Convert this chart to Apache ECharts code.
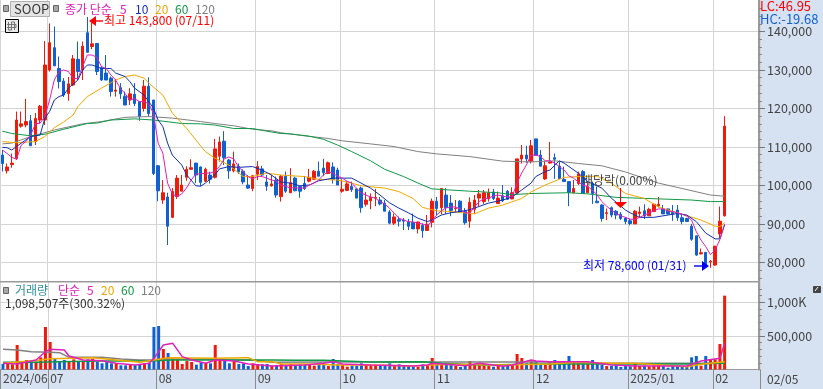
<!DOCTYPE html>
<html>
<head>
<meta charset="utf-8">
<style>
  html, body { margin: 0; padding: 0; background: #fff; }
  #chart { width: 823px; height: 389px; }
</style>
<script src="https://cdn.jsdelivr.net/npm/echarts@6/dist/echarts.min.js"></script>
</head>
<body>
<div id="chart"></div>
<script>
// 일봉 시세 (06/19 ~ 02/05)
const opens = [
  107900,103800,105400,107000,115400,115700,116800,111400,117000,117000,
  130000,135800,130400,127100,123900,126100,132800,130000,139700,136100,
  136900,130600,129200,127900,124500,125400,123200,122200,123700,121800,
  120000,125800,122200,105100,96200,97000,91700,97100,98500,102100,
  104200,105800,104800,101100,102700,102100,107600,111500,106600,103800,
  105000,103700,100100,99200,102900,104300,100900,99900,101400,97100,
  102400,98100,101900,99700,100500,101100,101600,103700,104500,103100,
  104800,104000,98500,98700,99700,99100,99300,95100,96000,96700,
  96200,95400,93100,90200,91100,91000,90500,90400,88700,89600,
  88300,90400,95900,94200,97500,95400,93900,95900,93300,90700,
  93800,96700,95800,96500,98300,95300,97300,98500,96500,98000,
  106900,107900,106300,112100,107900,101700,105800,107200,105000,101600,
  101000,98100,100500,103600,98100,100500,95900,94900,92700,94200,
  93300,92500,91500,90800,90000,92700,93400,92100,93200,94700,
  93900,93900,93000,93600,91600,91400,89400,86900,82200,82600,
  80100,79300,87400,92100
]
const closes = [
  105700,104800,105800,117000,116000,116600,110300,117400,120600,131300,
  137100,131100,127000,123500,126400,132900,129600,136200,134600,136800,
  129600,127400,127400,124400,124800,123800,120900,123800,121300,117900,
  125800,118700,103100,98600,98100,89400,98400,101900,100100,104200,
  104600,102700,100800,104200,101600,109500,111300,107200,103800,105600,
  103500,100900,99300,102500,104900,102700,99800,100400,97500,102400,
  98500,100700,98600,98500,99200,102100,103700,102400,103300,105900,
  101600,100100,99000,100400,98900,96700,94200,96200,96900,96900,
  95200,93300,90200,91800,90700,90700,89400,88700,90500,88200,
  89900,95900,94000,99200,94200,93500,94000,93000,90300,95600,
  96200,97800,98100,98100,96600,96700,96000,96400,98100,106900,
  107900,106900,110300,107800,105000,105100,106100,106800,101800,101000,
  98200,99200,103000,97900,99700,97900,95500,91400,92900,92300,
  92300,91400,90600,90100,93300,93100,92100,93800,95100,95100,
  92600,92600,92600,91600,90600,90600,86000,81900,82500,79300,
  80300,84200,90700,115400
]
const lows = [
  103600,103100,104600,106600,115000,115100,110300,110500,116000,115700,
  129600,131000,125200,123000,122000,125800,127400,127400,134600,135400,
  128700,127200,127400,123100,123100,122500,120900,120900,120600,116800,
  119200,117900,102700,95900,95200,84500,91500,96500,98500,101200,
  104200,100600,99800,100900,100500,101800,106200,105300,101700,103400,
  103000,100300,99100,98500,101400,102300,98600,99700,96800,95800,
  98100,98000,98500,96800,98800,100800,101500,102400,102400,103000,
  100500,100100,98100,98500,98300,96700,92900,94500,93800,94600,
  94800,93300,89900,89700,89300,88400,88400,88700,87500,86400,
  88200,89100,92300,92500,92600,92000,93000,93000,89800,89000,
  92700,94600,95200,95800,96200,95200,95700,96200,96400,98000,
  105700,105900,105700,107800,105000,101400,105700,101700,101800,101000,
  94600,98000,100100,97900,98000,95200,95500,90600,91000,91700,
  91200,91000,89900,89600,90000,91600,91300,92100,93100,94300,
  92600,92400,90800,90800,89900,90600,85600,81700,82100,78900,
  78600,79100,86200,91900
]
const highs = [
  109200,105700,108300,119200,119200,122500,118300,118800,120900,137500,
  142100,141300,133500,127900,128200,133900,137400,137400,143800,142300,
  137000,131000,133900,128300,127700,126600,124400,125300,126600,121800,
  127400,128100,122200,105300,101400,98100,99300,102700,102700,105000,
  106800,105900,104900,104600,103600,112100,112700,114100,106900,108800,
  105700,104200,102700,102700,106300,105100,102700,102700,102300,102700,
  103600,104500,102300,99800,102400,104300,104000,106200,106900,106200,
  106000,104600,101600,101100,101000,99300,99700,98300,97900,99100,
  97000,96200,93600,92700,91900,91500,91300,92700,90600,90100,
  92300,96600,97000,99200,99300,97500,96200,96200,94100,96900,
  97500,98800,98800,99200,99100,98400,100100,98800,99500,106900,
  110500,110300,111800,112100,109200,106200,111300,108300,106100,104900,
  101000,101400,103600,104000,101000,101000,99700,95200,94000,94500,
  93600,93100,91700,91400,93600,94500,95100,94200,95300,97000,
  94900,94000,94900,94900,92700,91600,90000,86900,83600,82600,
  80600,84300,94500,118000
]
const volumes = [
  82000,82000,77000,365000,102000,141000,107000,117000,181000,632000,
  409000,156000,117000,141000,117000,151000,117000,117000,151000,161000,
  117000,92000,117000,92000,92000,62000,62000,82000,67000,82000,
  92000,102000,632000,647000,305000,246000,166000,161000,82000,126000,
  112000,72000,102000,102000,92000,365000,141000,141000,92000,126000,
  82000,92000,52000,92000,82000,77000,82000,57000,67000,82000,
  52000,82000,67000,77000,77000,77000,57000,97000,67000,52000,
  156000,82000,67000,42000,57000,52000,92000,67000,67000,57000,
  57000,57000,92000,57000,77000,57000,57000,42000,42000,77000,
  62000,171000,92000,82000,67000,67000,57000,37000,57000,126000,
  67000,97000,67000,52000,42000,57000,82000,67000,77000,231000,
  171000,92000,122000,126000,82000,67000,126000,141000,82000,82000,
  201000,117000,107000,92000,82000,141000,82000,67000,52000,52000,
  67000,37000,52000,47000,82000,52000,57000,47000,57000,62000,
  52000,27000,52000,47000,47000,37000,181000,201000,57000,201000,
  151000,151000,379000,1098507
]

// 종가 단순 이평 5일은 전 구간, 나머지는 그림에서 읽은 지점만 [봉번호, 값]
const priceMa5 = [
  109200,108300,107300,106800,110500,111400,113100,116000,116200,117900,
  122200,127400,129600,130000,129600,127800,127800,130900,133900,133900,
  133300,130900,130400,128700,127400,125200,123900,122200,122600,121800,
  121800,121300,118700,111000,108400,100600,97800,97100,97800,99300,
  101400,103000,103000,103200,103200,103600,104900,106900,107400,106900,
  104900,103600,102300,101700,102300,102300,101900,101400,101100,100100,
  99800,99300,99400,99300,99300,100100,100600,101400,102700,103600,
  103200,102400,101900,101100,100600,99300,98000,97500,97000,96700,
  95800,95200,94100,92800,91500,91000,90600,90500,90200,90000,
  89500,90600,92300,93400,94200,94400,94400,93900,92900,92800,
  94400,95800,96500,96700,97200,97500,97200,97000,97000,100600,
  103200,105300,107900,107900,107500,106400,106400,105800,104900,104000,
  102500,101900,100900,100100,99700,98800,97500,95800,94600,93600,
  92700,92100,91700,91200,91200,91700,92300,92800,93400,93900,
  93900,93300,93200,92900,92500,92000,91000,88000,85800,84100,
  82000,83200,85900,90000
]
const priceMa10 = [
  [0,109900],[1,109800],[2,109200],[4,111000],[6,112700],[8,113100],[9,117500],[10,119200],
  [11,122200],[12,123100],[13,123500],[14,125300],[16,127400],[17,130000],[18,131300],[19,131300],
  [21,130400],[23,130400],[24,129200],[26,128300],[27,127000],[28,125300],[30,123500],[31,121800],
  [32,120100],[33,117000],[34,115300],[35,111000],[36,107900],[38,105300],[39,102800],[41,99900],
  [42,99800],[43,100600],[45,102700],[46,104300],[48,104900],[50,104700],[53,104900],[55,104000],
  [57,102700],[59,100900],[61,100600],[63,99900],[65,100100],[67,101200],[70,101900],[74,101900],
  [76,100600],[78,99300],[80,97500],[82,95500],[84,94100],[86,92900],[88,91500],[90,90600],
  [91,91000],[93,92300],[95,92900],[98,93400],[100,94100],[103,95400],[106,96200],[108,97000],
  [110,98800],[112,100600],[113,102300],[115,103600],[116,104000],[118,106400],[119,105800],[122,103200],
  [124,101000],[127,99300],[129,96700],[132,93600],[133,92900],[135,91700],[138,91700],[141,92300],
  [143,92700],[145,92300],[147,90600],[149,87600],[151,86100],[152,86100],[153,89700]
]
const priceMa20 = [
  [0,111400],[3,111100],[7,111400],[9,112700],[11,115000],[13,116500],[15,118300],[16,120500],
  [18,123100],[21,125300],[24,127400],[26,128300],[28,128700],[30,127900],[31,126600],[34,123500],
  [36,118800],[38,116200],[39,114900],[41,111800],[43,108800],[45,107100],[48,105300],[51,102300],
  [53,102300],[56,103200],[59,102700],[64,102300],[67,101600],[71,101400],[74,100600],[76,99900],
  [81,99300],[84,98400],[87,96600],[89,94300],[92,93400],[95,93200],[100,92600],[103,94100],
  [106,94900],[110,96600],[112,98300],[115,100100],[119,102100],[122,102300],[126,102400],[129,100600],
  [132,97900],[136,96600],[139,94400],[144,92500],[148,91000],[151,89400],[152,89300],[153,90300]
]
const priceMa60 = [
  [0,114100],[2,113500],[6,112900],[9,113300],[13,114600],[18,116100],[20,116200],[23,117000],
  [28,117300],[32,117000],[38,116100],[42,116000],[45,115700],[49,114800],[53,114800],[56,114100],
  [59,113500],[61,113400],[65,112800],[68,112000],[71,110500],[74,108800],[78,106400],[81,104200],
  [85,102300],[89,100100],[91,99100],[95,98800],[99,98500],[105,98100],[108,97600],[112,97900],
  [116,98000],[120,98100],[124,97800],[130,96900],[139,96500],[146,96200],[150,95800],[153,95800]
]
const priceMa120 = [
  [0,110800],[2,111000],[6,112700],[11,114400],[17,116000],[21,116600],[26,117700],[31,117900],
  [36,117500],[42,116600],[45,116100],[49,115500],[53,114600],[57,114200],[59,113700],[64,112900],
  [69,112200],[72,111600],[78,110800],[83,110100],[88,108800],[92,108200],[99,107500],[106,106300],
  [112,106100],[117,106400],[122,105700],[127,105100],[132,103500],[139,100600],[144,99200],[150,97500],
  [153,97200]
]

// 거래량 이평
const volMa5 = [
  [0,92000],[3,82000],[7,141000],[9,265000],[10,300000],[13,290000],[14,201000],[17,141000],
  [21,131000],[24,92000],[28,67000],[31,92000],[32,166000],[34,365000],[36,389000],[38,191000],
  [40,141000],[43,92000],[45,141000],[49,126000],[52,82000],[57,52000],[64,67000],[68,92000],
  [70,117000],[72,82000],[78,67000],[87,52000],[90,67000],[91,92000],[98,57000],[101,92000],
  [106,47000],[108,67000],[112,141000],[113,126000],[116,117000],[119,117000],[124,117000],[129,67000],
  [134,52000],[145,52000],[148,126000],[152,166000],[153,389000]
]
const volMa20 = [
  [0,92000],[8,141000],[10,161000],[19,176000],[24,141000],[29,107000],[32,141000],[35,176000],
  [45,166000],[52,176000],[54,117000],[57,117000],[59,82000],[64,82000],[71,67000],[78,67000],
  [87,52000],[91,67000],[95,77000],[106,67000],[116,82000],[122,107000],[129,92000],[134,92000],
  [145,42000],[148,77000],[153,117000]
]
const volMa60 = [
  [0,107000],[7,107000],[20,126000],[31,126000],[36,141000],[45,141000],[53,141000],[57,141000],
  [62,136000],[68,136000],[78,112000],[89,117000],[93,92000],[101,67000],[115,82000],[134,82000],
  [145,82000],[153,92000]
]
const volMa120 = [
  [0,300000],[3,290000],[6,265000],[10,255000],[12,250000],[14,181000],[21,181000],[25,156000],
  [29,141000],[32,141000],[36,151000],[45,151000],[48,141000],[53,141000],[57,107000],[70,112000],
  [116,112000],[126,92000],[153,92000]
]

const monthLabels = {
  0: '2024/06', 10: '07', 33: '08', 54: '09', 72: '10',
  92: '11', 113: '12', 133: '2025/01', 151: '02'
}
const priceTicks = [80000, 90000, 100000, 110000, 120000, 130000, 140000]
const priceMinorTicks = [
  76000, 78000, 82000, 84000, 86000, 88000, 92000, 94000, 96000, 98000,
  102000, 104000, 106000, 108000, 112000, 114000, 116000, 118000,
  122000, 124000, 126000, 128000, 132000, 134000, 136000, 138000, 142000, 144000, 146000
]
const volTicks = [500000, 1000000]
const volMinorTicks = [
  100000, 200000, 300000, 400000, 600000, 700000, 800000, 900000, 1100000, 1200000
]

// 빈 봉 7개 포함 (02/05 오른쪽 여백)
const categories = Array.from({ length: 161 }, (_, i) => i)
const candles = opens.map((o, i) => [o, closes[i], lows[i], highs[i]])

const RED = '#ee1a0a'
const BLUE = '#1060d0'
const C_MA5 = '#e020b8'
const C_MA10 = '#1030b0'
const C_MA20 = '#f0a800'
const C_MA60 = '#109848'
const C_MA120 = '#808080'
const GRID = '#d4d4d4'
const AXIS = '#9a9a9a'
const PANEL = '#d6e2f1'
const FONT = '"Noto Sans CJK KR", "Liberation Sans", sans-serif'

const isMonth = index => monthLabels[index] !== undefined

function maLine(name, data, color, xIdx, yIdx, width) {
  return {
    name, type: 'line', data, xAxisIndex: xIdx, yAxisIndex: yIdx,
    showSymbol: false, silent: true, animation: false,
    lineStyle: { color, width: width || 1 }, z: 4
  }
}

function label(x, y, text, color, size) {
  return {
    type: 'text', x, y, silent: true, z: 20,
    style: { text, fill: color, font: `${size || 12}px ${FONT}`, verticalAlign: 'middle' }
  }
}

function box(x, y, w, h, fill, stroke) {
  return {
    type: 'rect', silent: true, z: 19,
    shape: { x: x + 0.5, y: y + 0.5, width: w, height: h },
    style: { fill, stroke: stroke || null, lineWidth: 1 }
  }
}

const graphics = [
  // 오른쪽 / 아래 패널
  { type: 'rect', silent: true, z: -10, shape: { x: 758, y: 0, width: 65, height: 389 }, style: { fill: PANEL } },
  { type: 'rect', silent: true, z: -10, shape: { x: 0, y: 370, width: 823, height: 19 }, style: { fill: PANEL } },
  { type: 'rect', silent: true, z: 3, shape: { x: 0, y: 281, width: 758, height: 1.4 }, style: { fill: AXIS } },
  // 상단 범례
  box(3, 5, 5, 6, '#a8a8a8', '#666'),
  box(10, 1, 39, 15, '#e4e4e4', '#b0b0b0'),
  label(14, 9, 'SOOP', '#333', 13),
  box(53, 5, 5, 6, '#a8a8a8', '#666'),
  label(65, 9, '종가 단순', C_MA5),
  label(120, 9, '5', C_MA5),
  label(135, 9, '10', C_MA10),
  label(155, 9, '20', C_MA20),
  label(175, 9, '60', C_MA60),
  label(195, 9, '120', C_MA120),
  // 격자 아이콘
  box(5, 19, 13, 13, '#e8e8e8', '#000'),
  { type: 'polyline', silent: true, z: 20, shape: { points: [[8.5, 22], [8.5, 30], [11.5, 30], [11.5, 22], [14.5, 22], [14.5, 30]] }, style: { stroke: '#777', fill: null } },
  { type: 'polyline', silent: true, z: 20, shape: { points: [[7, 24.5], [16, 24.5], [16, 27.5], [7, 27.5]] }, style: { stroke: '#777', fill: null } },
  // 최고가
  { type: 'line', silent: true, z: 20, shape: { x1: 93, y1: 21, x2: 103, y2: 21 }, style: { stroke: '#f00', lineWidth: 1.4 } },
  { type: 'polygon', silent: true, z: 20, shape: { points: [[89, 21], [96, 16], [96, 26]] }, style: { fill: '#f00' } },
  label(104, 20.5, '최고 143,800 (07/11)', '#f00'),
  // 배당락
  label(582, 180, '배당락(0.00%)', '#444'),
  { type: 'line', silent: true, z: 20, shape: { x1: 620.5, y1: 188, x2: 620.5, y2: 203 }, style: { stroke: '#f00', lineWidth: 1 } },
  { type: 'polygon', silent: true, z: 20, shape: { points: [[614, 202], [627, 202], [620.5, 208]] }, style: { fill: '#f00' } },
  // 최저가
  label(583, 265, '최저 78,600 (01/31)', '#0000f0'),
  { type: 'line', silent: true, z: 20, shape: { x1: 694, y1: 266, x2: 704, y2: 266 }, style: { stroke: '#0000f0', lineWidth: 1.4 } },
  { type: 'polygon', silent: true, z: 20, shape: { points: [[709, 266], [702, 261], [702, 271]] }, style: { fill: '#0000f0' } },
  // 거래량 범례
  box(3, 287, 5, 6, '#a8a8a8', '#666'),
  label(15, 290, '거래량', '#2f8f9a'),
  label(58, 290, '단순', C_MA5),
  label(87, 290, '5', C_MA5),
  label(101, 290, '20', C_MA20),
  label(121, 290, '60', C_MA60),
  label(141, 290, '120', C_MA120),
  label(5, 303, '1,098,507주(300.32%)', '#333'),
  // 우측 상단
  label(760, 6, 'LC:46.95', '#f00', 13),
  label(760, 19, 'HC:-19.68', '#1060d0', 13),
  box(813, 286, 7, 6, '#444', '#444'),
  { type: 'polyline', silent: true, z: 20, shape: { points: [[815, 291], [818, 287]] }, style: { stroke: '#fff', fill: null } },
  // 02/05 눈금
  label(767, 379, '02/05', '#444', 12)
]

const chart = echarts.init(document.getElementById('chart'))
chart.setOption({
  animation: false,
  backgroundColor: '#fff',
  textStyle: { fontFamily: FONT },
  grid: [
    { left: 0, top: 0, width: 760, height: 281.6 },
    { left: 0, top: 282, width: 760, height: 87.5 }
  ],
  xAxis: [
    {
      type: 'category', gridIndex: 0, data: categories,
      axisLine: { show: false }, axisTick: { show: false }, axisLabel: { show: false },
      splitLine: { show: true, interval: isMonth, lineStyle: { color: GRID } }
    },
    {
      type: 'category', gridIndex: 1, data: categories,
      axisLine: { show: true, onZero: false, lineStyle: { color: AXIS, width: 1 } },
      axisTick: { show: true, length: 20, interval: isMonth, lineStyle: { color: '#8c8c8c' } },
      axisLabel: {
        show: true, interval: isMonth, margin: 3, align: 'left', showMinLabel: true,
        color: '#444', fontSize: 12, fontFamily: FONT,
        formatter: (v, i) => monthLabels[i] || ''
      },
      splitLine: { show: true, interval: isMonth, lineStyle: { color: GRID } }
    }
  ],
  yAxis: [
    {
      type: 'value', gridIndex: 0, position: 'right', offset: -1, min: 75000, max: 148200,
      axisLine: { show: true, onZero: false, lineStyle: { color: AXIS, width: 2 } },
      axisTick: { show: true, length: 6, customValues: priceTicks, lineStyle: { color: '#777' } },
      axisLabel: {
        show: true, customValues: priceTicks, margin: 8, color: '#444', fontSize: 12.5, fontFamily: FONT,
        formatter: v => v.toLocaleString('en-US')
      },
      splitLine: { show: true, lineStyle: { color: GRID } }
    },
    {
      type: 'value', gridIndex: 0, position: 'right', offset: -1, min: 75000, max: 148200,
      axisLine: { show: false },
      axisTick: { show: true, length: 3, customValues: priceMinorTicks, lineStyle: { color: '#888' } },
      axisLabel: { show: false }, splitLine: { show: false }
    },
    {
      type: 'value', gridIndex: 1, position: 'right', offset: -1, min: 0, max: 1302000,
      axisLine: { show: true, onZero: false, lineStyle: { color: AXIS, width: 2 } },
      axisTick: { show: true, length: 6, customValues: volTicks, lineStyle: { color: '#777' } },
      axisLabel: {
        show: true, customValues: volTicks, margin: 8, color: '#444', fontSize: 12.5, fontFamily: FONT,
        formatter: v => v === 1000000 ? '1,000K' : v.toLocaleString('en-US')
      },
      splitLine: { show: true, lineStyle: { color: GRID } }
    },
    {
      type: 'value', gridIndex: 1, position: 'right', offset: -1, min: 0, max: 1302000,
      axisLine: { show: false },
      axisTick: { show: true, length: 3, customValues: volMinorTicks, lineStyle: { color: '#888' } },
      axisLabel: { show: false }, splitLine: { show: false }
    }
  ],
  series: [
    {
      name: 'SOOP', type: 'candlestick', data: candles, xAxisIndex: 0, yAxisIndex: 0,
      barWidth: 3, z: 2,
      itemStyle: { color: RED, color0: BLUE, borderColor: RED, borderColor0: BLUE, borderWidth: 1 }
    },
    maLine('MA120', priceMa120, C_MA120, 0, 0),
    maLine('MA60', priceMa60, C_MA60, 0, 0),
    maLine('MA20', priceMa20, C_MA20, 0, 0),
    maLine('MA10', priceMa10, C_MA10, 0, 0),
    maLine('MA5', priceMa5, C_MA5, 0, 0),
    {
      name: '거래량', type: 'bar', data: volumes, xAxisIndex: 1, yAxisIndex: 2,
      barWidth: 3, z: 2,
      itemStyle: { color: p => closes[p.dataIndex] >= opens[p.dataIndex] ? RED : BLUE }
    },
    maLine('V120', volMa120, C_MA120, 1, 2, 1.5),
    maLine('V60', volMa60, C_MA60, 1, 2, 1.5),
    maLine('V20', volMa20, C_MA20, 1, 2, 1.5),
    maLine('V5', volMa5, C_MA5, 1, 2, 1.5)
  ],
  graphic: graphics
})
</script>
</body>
</html>
